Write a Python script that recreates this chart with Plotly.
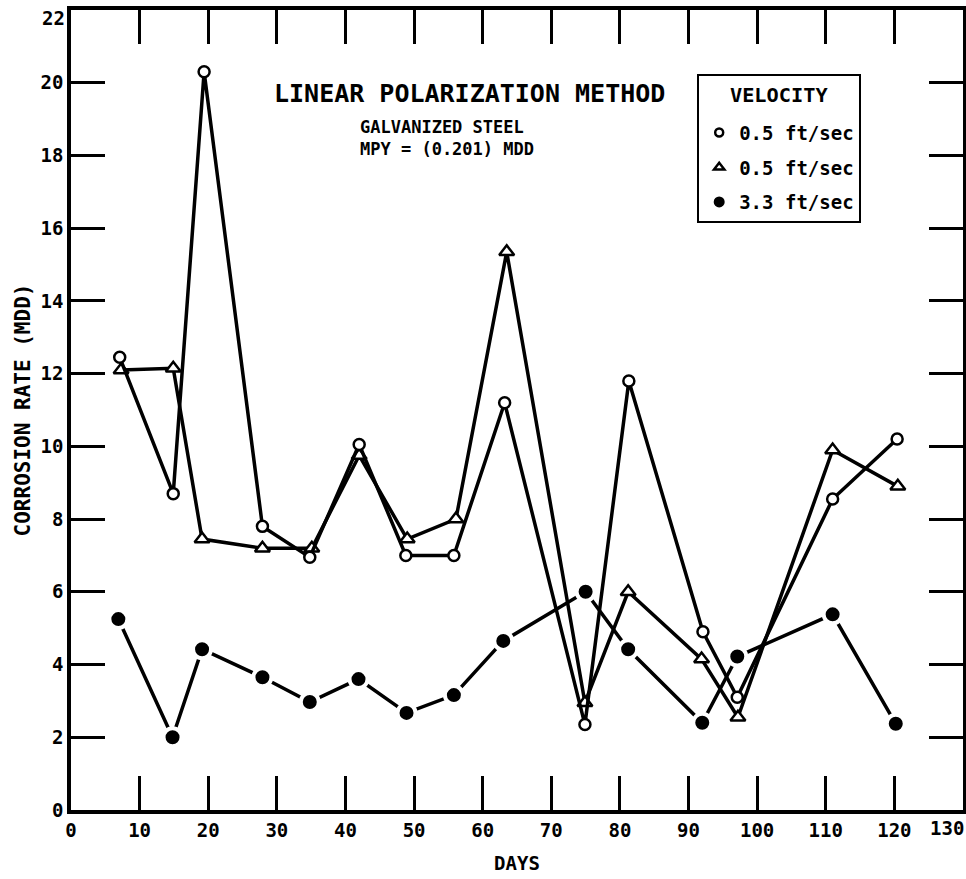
import plotly.graph_objects as go

# series (days, corrosion rate in MDD)
days_open = [7.1, 14.9, 19.4, 27.9, 34.8, 42.0, 48.8, 55.8, 63.2, 74.9, 81.3, 92.1, 97.1, 111.0, 120.4]
mdd_open = [12.45, 8.7, 20.3, 7.8, 6.95, 10.05, 7.0, 7.0, 11.2, 2.35, 11.8, 4.9, 3.1, 8.55, 10.2]

days_tri = [7.3, 14.9, 19.1, 27.9, 35.1, 42.0, 49.0, 56.1, 63.5, 74.9, 81.2, 91.9, 97.2, 111.0, 120.5]
mdd_tri = [12.1, 12.15, 7.45, 7.2, 7.2, 9.75, 7.45, 8.0, 15.35, 2.95, 6.0, 4.15, 2.55, 9.9, 8.9]

days_fill = [6.9, 14.8, 19.1, 27.9, 34.8, 41.9, 48.9, 55.8, 63.0, 75.0, 81.2, 92.0, 97.1, 111.0, 120.2]
mdd_fill = [5.25, 2.0, 4.42, 3.65, 2.97, 3.6, 2.67, 3.16, 4.65, 6.0, 4.42, 2.4, 4.22, 5.38, 2.37]

labels = ["0.5 ft/sec", "0.5 ft/sec", "3.3 ft/sec"]
x_ticks = list(range(0, 131, 10))
y_ticks = list(range(0, 23, 2))

MONO = "DejaVu Sans Mono"


def font(size, bold=True):
    return dict(family=MONO, size=size, color="black", weight="bold" if bold else "normal")


fig = go.Figure()

# filled dots: white ring leaves the small gap the original has where lines meet
fig.add_trace(go.Scatter(
    x=days_fill, y=mdd_fill, mode="lines+markers", showlegend=False,
    line=dict(color="black", width=3.5),
    marker=dict(symbol="circle", size=18, color="black", line=dict(color="white", width=4)),
))
fig.add_trace(go.Scatter(
    x=days_tri, y=mdd_tri, mode="lines+markers", showlegend=False,
    line=dict(color="black", width=3.5),
    marker=dict(symbol="triangle-up", size=13, color="white", line=dict(color="black", width=2.5)),
))
fig.add_trace(go.Scatter(
    x=days_open, y=mdd_open, mode="lines+markers", showlegend=False,
    line=dict(color="black", width=3.5),
    marker=dict(symbol="circle", size=11, color="white", line=dict(color="black", width=2.5)),
))

# legend entries (markers only, like the boxed key)
legend_markers = [
    dict(symbol="circle", size=8, color="white", line=dict(color="black", width=2.5)),
    dict(symbol="triangle-up", size=9, color="white", line=dict(color="black", width=2.5)),
    dict(symbol="circle", size=11, color="black"),
]
for i, (lab, mk) in enumerate(zip(labels, legend_markers)):
    fig.add_trace(go.Scatter(
        x=[None], y=[None], mode="markers", name=lab, marker=mk,
        legendgroup=f"g{i}", showlegend=True,
    ))

axis_common = dict(
    showline=True, linecolor="black", linewidth=3.5, mirror="allticks",
    ticks="inside", ticklen=34, tickwidth=3, tickcolor="black",
    showgrid=False, zeroline=False,
    tickfont=font(19),
)

# end labels (130, 22) sit off their ticks in the scan to stay on the page; drawn separately below.
# their ticks would fall on the frame lines anyway
fig.update_xaxes(
    range=[0, 130], tickvals=x_ticks[:-1], **axis_common,
    title=dict(text="DAYS", font=font(19), standoff=18),
)
fig.update_yaxes(
    range=[0, 22], tickvals=y_ticks[:-1], **axis_common,
    title=dict(text="CORROSION RATE (MDD)", font=font(21), standoff=5),
)
fig.add_annotation(
    text=str(x_ticks[-1]), xref="x", yref="paper", x=x_ticks[-1], y=0,
    xanchor="right", yanchor="middle", xshift=3, yshift=-18, showarrow=False, font=font(19),
)
fig.add_annotation(
    text=str(y_ticks[-1]), xref="paper", yref="y", x=0, y=y_ticks[-1],
    xanchor="right", yanchor="middle", xshift=-4, yshift=-8, showarrow=False, font=font(19),
)

fig.add_annotation(
    text="LINEAR POLARIZATION METHOD", xref="paper", yref="paper",
    x=0.447, y=0.896, xanchor="center", yanchor="middle", showarrow=False,
    font=font(25),
)
fig.add_annotation(
    text="GALVANIZED STEEL<br>MPY = (0.201) MDD", xref="paper", yref="paper",
    x=0.322, y=0.8405, xanchor="left", yanchor="middle", align="left", showarrow=False,
    font=font(17),
)

fig.update_layout(
    width=966, height=879,
    margin=dict(l=71, r=3, t=10, b=69, autoexpand=False),
    paper_bgcolor="white", plot_bgcolor="white",
    legend=dict(
        x=0.702, y=0.92, xanchor="left", yanchor="top",
        bgcolor="white", bordercolor="black", borderwidth=2,
        font=font(19),
        # taller title font only to open up the gap under the heading; sup lifts the word back up
        title=dict(text="<sup>VELOCITY</sup>", side="top center", font=font(29)),
        tracegroupgap=7, itemwidth=30,
    ),
)

# drop the default body margin so the 966x879 figure fills the window exactly
fig.write_html(
    "out.html",
    config={"displayModeBar": False},
    post_script="document.body.style.margin='0';document.body.style.overflow='hidden';",
)
